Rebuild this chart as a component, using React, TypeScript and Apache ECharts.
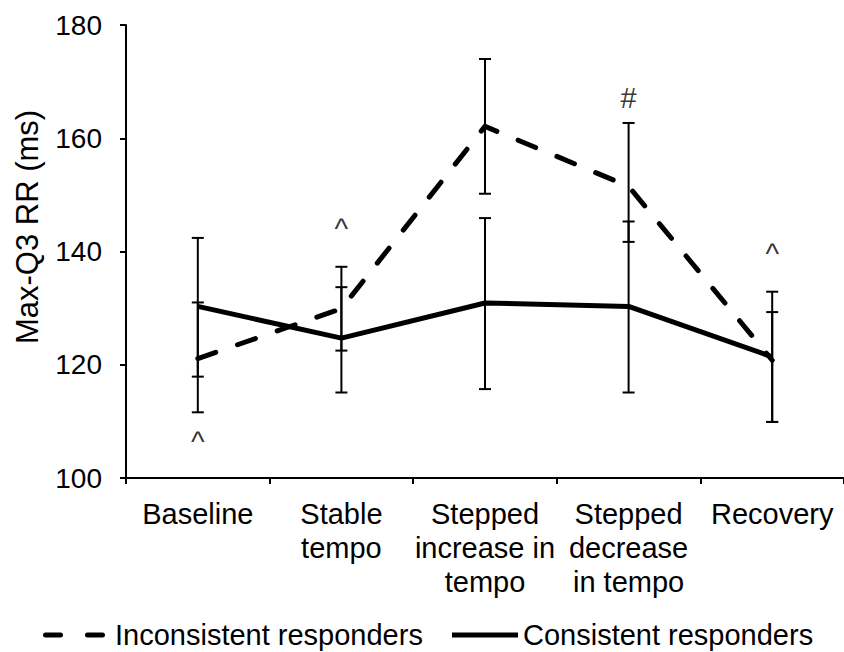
import React, { useEffect, useRef } from "react";
import * as echarts from "echarts";

const categories = [
  "Baseline",
  "Stable\ntempo",
  "Stepped\nincrease in\ntempo",
  "Stepped\ndecrease\nin tempo",
  "Recovery",
];

const inconsistentMean = [121.1, 129.9, 162.1, 151.5, 120.8];
const inconsistentLow = [111.6, 122.5, 150.2, 141.7, 109.9];
const inconsistentHigh = [131.0, 137.3, 174.0, 162.7, 129.3];

const consistentMean = [130.3, 124.7, 130.9, 130.3, 121.4];
const consistentLow = [117.9, 115.1, 115.7, 115.1, 109.9];
const consistentHigh = [142.4, 133.7, 145.9, 145.3, 132.9];

const annotCategory = [0, 1, 3, 4];
const annotValue = [106.4, 143.9, 167.1, 139.6];
const annotText = ["^", "^", "#", "^"];

const yTicks = { min: 100, max: 180, interval: 20 };

const FONT = '"Liberation Sans", Arial, sans-serif';
const FS_TICK = 28;
const FS_LABEL = 29;
const FS_NAME = 31;

function errorBarRender(params: any, api: any) {
  const x = api.value(0);
  const lo = api.coord([x, api.value(1)]);
  const hi = api.coord([x, api.value(2)]);
  const hw = 6;
  const style = { stroke: "#000", lineWidth: 2 };
  return {
    type: "group",
    children: [
      { type: "line", shape: { x1: lo[0], y1: lo[1], x2: hi[0], y2: hi[1] }, style },
      { type: "line", shape: { x1: lo[0] - hw, y1: lo[1], x2: lo[0] + hw, y2: lo[1] }, style },
      { type: "line", shape: { x1: hi[0] - hw, y1: hi[1], x2: hi[0] + hw, y2: hi[1] }, style },
    ],
  };
}

export default function App() {
  const ref = useRef<HTMLDivElement>(null);
  useEffect(() => {
    document.body.style.margin = "0";
    const chart = echarts.init(ref.current!, null, { renderer: "svg" });
    const option: any = {
      animation: false,
      backgroundColor: "#fff",
      textStyle: { fontFamily: FONT },
      grid: { left: 126, top: 25, width: 725, height: 453, containLabel: false },
      xAxis: {
        type: "category",
        data: categories,
        boundaryGap: true,
        axisLine: { lineStyle: { color: "#000", width: 2 } },
        axisTick: { show: true, length: 6, lineStyle: { color: "#000", width: 2 } },
        axisLabel: {
          color: "#000",
          fontSize: FS_LABEL,
          fontFamily: FONT,
          lineHeight: 34,
          margin: 19,
          interval: 0,
          align: "center",
        },
        splitLine: { show: false },
      },
      yAxis: {
        type: "value",
        min: yTicks.min,
        max: yTicks.max,
        interval: yTicks.interval,
        axisLine: { show: true, lineStyle: { color: "#000", width: 2 } },
        axisTick: { show: true, length: 6, lineStyle: { color: "#000", width: 2 } },
        axisLabel: { color: "#000", fontSize: FS_TICK, fontFamily: FONT, margin: 24 },
        splitLine: { show: false },
      },
      graphic: [
        {
          type: "text",
          x: 27,
          y: 227,
          rotation: Math.PI / 2,
          style: {
            text: "Max-Q3 RR (ms)",
            fill: "#000",
            font: `${FS_NAME}px ${FONT}`,
            textAlign: "center",
            textVerticalAlign: "middle",
          },
        },
        {
          type: "line",
          shape: { x1: 45.5, y1: 635, x2: 104.5, y2: 635 },
          style: { stroke: "#000", lineWidth: 5, lineCap: "round", lineDash: [15, 27] },
        },
        {
          type: "text",
          x: 115,
          y: 635,
          style: {
            text: "Inconsistent responders",
            fill: "#000",
            font: `${FS_LABEL}px ${FONT}`,
            textAlign: "left",
            textVerticalAlign: "middle",
          },
        },
        {
          type: "line",
          shape: { x1: 452, y1: 635, x2: 518, y2: 635 },
          style: { stroke: "#000", lineWidth: 5 },
        },
        {
          type: "text",
          x: 523,
          y: 635,
          style: {
            text: "Consistent responders",
            fill: "#000",
            font: `${FS_LABEL}px ${FONT}`,
            textAlign: "left",
            textVerticalAlign: "middle",
          },
        },
      ],
      series: [
        {
          name: "Inconsistent responders",
          type: "line",
          data: inconsistentMean,
          symbol: "none",
          lineStyle: { color: "#000", width: 5, type: [19, 23], cap: "round", join: "round" },
          z: 2,
        },
        {
          name: "Consistent responders",
          type: "line",
          data: consistentMean,
          symbol: "none",
          lineStyle: { color: "#000", width: 5, type: "solid", join: "round" },
          z: 3,
        },
        {
          name: "Inconsistent error",
          type: "custom",
          renderItem: errorBarRender,
          encode: { x: 0, y: [1, 2] },
          data: inconsistentMean.map((_, i) => [i, inconsistentLow[i], inconsistentHigh[i]]),
          z: 4,
        },
        {
          name: "Consistent error",
          type: "custom",
          renderItem: errorBarRender,
          encode: { x: 0, y: [1, 2] },
          data: consistentMean.map((_, i) => [i, consistentLow[i], consistentHigh[i]]),
          z: 4,
        },
        {
          name: "Annotations",
          type: "scatter",
          symbolSize: 1,
          itemStyle: { color: "rgba(0,0,0,0)" },
          data: annotCategory.map((c, i) => [c, annotValue[i]]),
          label: {
            show: true,
            position: "inside",
            color: "#000",
            fontSize: FS_LABEL,
            fontFamily: FONT,
            formatter: (p: any) => annotText[p.dataIndex],
          },
          z: 5,
        },
      ],
    };
    chart.setOption(option);
    return () => chart.dispose();
  }, []);
  return <div ref={ref} style={{ width: 844, height: 652 }} />;
}
